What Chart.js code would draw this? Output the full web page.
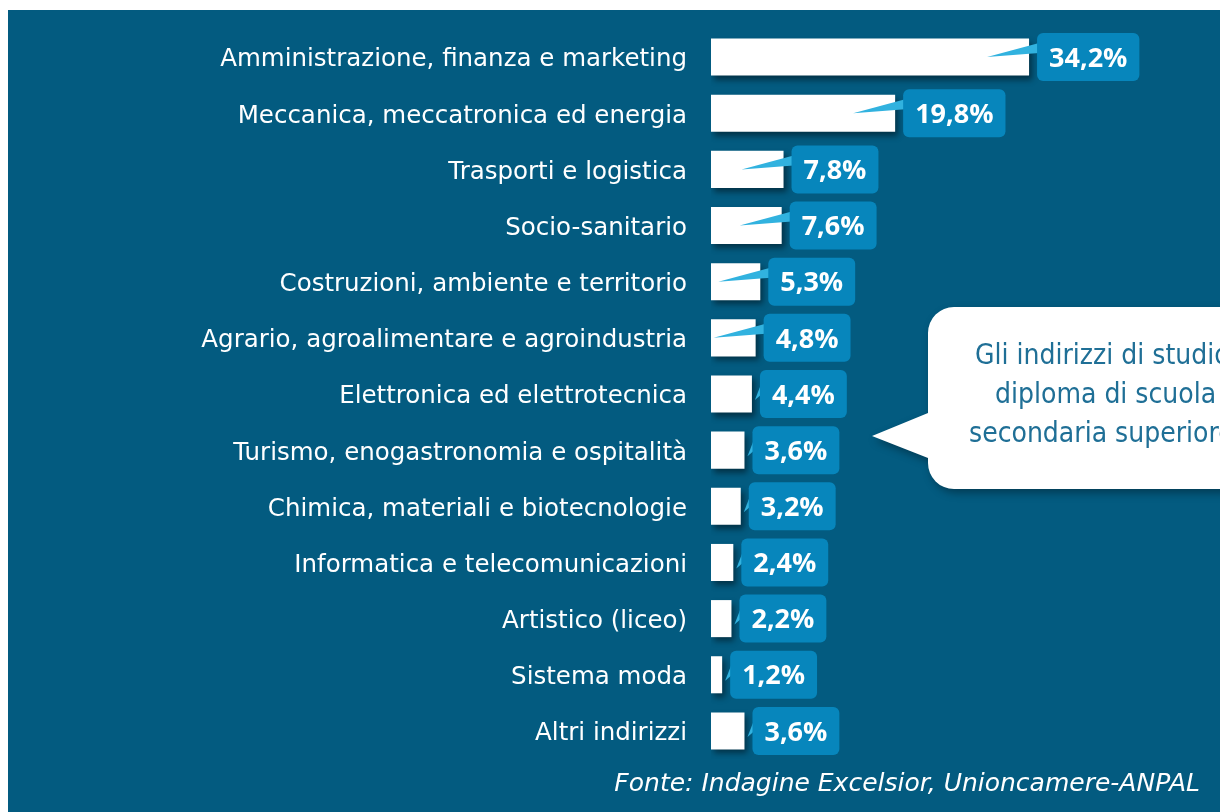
<!DOCTYPE html>
<html>
<head>
<meta charset="utf-8">
<script src="https://cdn.jsdelivr.net/npm/chart.js@4"></script>
<style>
  html, body { margin: 0; padding: 0; background: #fff; }
  canvas { display: block; }
</style>
</head>
<body>
<canvas id="bars" width="1220" height="812"></canvas>
<script>
// indirizzi di studio, quota % sul totale
const categories = [
  'Amministrazione, finanza e marketing',
  'Meccanica, meccatronica ed energia',
  'Trasporti e logistica',
  'Socio-sanitario',
  'Costruzioni, ambiente e territorio',
  'Agrario, agroalimentare e agroindustria',
  'Elettronica ed elettrotecnica',
  'Turismo, enogastronomia e ospitalità',
  'Chimica, materiali e biotecnologie',
  'Informatica e telecomunicazioni',
  'Artistico (liceo)',
  'Sistema moda',
  'Altri indirizzi'
];
const shares = [34.2, 19.8, 7.8, 7.6, 5.3, 4.8, 4.4, 3.6, 3.2, 2.4, 2.2, 1.2, 3.6];
const noteLines = ['Gli indirizzi di studio', 'diploma di scuola', 'secondaria superiore'];
const source = 'Fonte: Indagine Excelsior, Unioncamere-ANPAL';

const BG = '#035b80';
const BOX = '#0786bc';
const TAIL = '#31b2df';

const fmt = v => v.toFixed(1).replace('.', ',') + '%';

function roundRect(ctx, x, y, w, h, r) {
  ctx.beginPath();
  ctx.moveTo(x + r, y);
  ctx.arcTo(x + w, y, x + w, y + h, r);
  ctx.arcTo(x + w, y + h, x, y + h, r);
  ctx.arcTo(x, y + h, x, y, r);
  ctx.arcTo(x, y, x + w, y, r);
  ctx.closePath();
}

// background panel with thin white margin top/left
const background = {
  id: 'background',
  beforeDraw(chart) {
    const c = chart.ctx;
    c.save();
    c.fillStyle = '#fff';
    c.fillRect(0, 0, chart.width, chart.height);
    c.fillStyle = BG;
    c.fillRect(8, 10, chart.width - 8, chart.height - 10);
    c.restore();
  }
};

// drop shadow under the bars
const barShadow = {
  id: 'barShadow',
  beforeDatasetsDraw(chart) {
    const c = chart.ctx;
    c.save();
    c.shadowColor = 'rgba(0,0,0,0.45)';
    c.shadowBlur = 6;
    c.shadowOffsetX = 3;
    c.shadowOffsetY = 4;
  },
  afterDatasetsDraw(chart) {
    chart.ctx.restore();
  }
};

// value callouts, speech bubble and source line
const callouts = {
  id: 'callouts',
  afterDraw(chart) {
    const c = chart.ctx;
    const meta = chart.getDatasetMeta(0);
    c.save();
    c.font = 'bold 27px "Open Sans"';
    meta.data.forEach((bar, i) => {
      const txt = fmt(shares[i]);
      const end = bar.x;
      const cy = bar.y;
      const bx = end + 8;
      const bw = c.measureText(txt).width + 24;
      const by = cy - 24;
      // tail
      c.fillStyle = TAIL;
      c.beginPath();
      if (end - 42 > 712) {
        c.moveTo(bx + 2, by + 10);
        c.lineTo(bx + 2, by + 20);
        c.lineTo(end - 42, cy);
      } else {
        c.moveTo(bx + 2, by + 12);
        c.lineTo(bx + 2, by + 24);
        c.lineTo(bx - 5, cy + 6);
      }
      c.closePath();
      c.fill();
      // box
      c.fillStyle = BOX;
      roundRect(c, bx, by, bw, 48, 6);
      c.fill();
      c.fillStyle = '#fff';
      c.textAlign = 'center';
      c.textBaseline = 'middle';
      c.fillText(txt, bx + bw / 2, cy + 2);
    });

    // speech bubble
    c.save();
    c.shadowColor = 'rgba(0,0,0,0.35)';
    c.shadowBlur = 8;
    c.shadowOffsetX = 3;
    c.shadowOffsetY = 4;
    c.fillStyle = '#fff';
    const L = 928, T = 307, R = 1260, B = 489, r = 26;
    c.beginPath();
    c.moveTo(L + r, T);
    c.lineTo(R, T);
    c.lineTo(R, B);
    c.lineTo(L + r, B);
    c.arcTo(L, B, L, B - r, r);
    c.lineTo(L, 458);
    c.lineTo(872, 436);
    c.lineTo(L, 413);
    c.arcTo(L, T, L + r, T, r);
    c.closePath();
    c.fill();
    c.restore();

    c.fillStyle = '#1f6f96';
    c.font = '200 28px "DejaVu Sans Condensed"';
    c.textAlign = 'left';
    c.textBaseline = 'middle';
    const lx = [975, 995, 969];
    noteLines.forEach((t, i) => c.fillText(t, lx[i], 357 + i * 39));

    // source
    c.fillStyle = '#fff';
    c.font = 'italic 25px "DejaVu Sans"';
    c.textAlign = 'right';
    c.fillText(source, 1200, 784);
    c.restore();
  }
};

new Chart(document.getElementById('bars'), {
  type: 'bar',
  data: {
    labels: categories,
    datasets: [{
      data: shares,
      backgroundColor: '#ffffff',
      borderWidth: 0,
      categoryPercentage: 0.66,
      barPercentage: 1
    }]
  },
  options: {
    indexAxis: 'y',
    responsive: false,
    animation: false,
    devicePixelRatio: 1,
    layout: { padding: { top: 29, bottom: 53, right: 44, left: 0 } },
    plugins: {
      legend: { display: false },
      tooltip: { enabled: false }
    },
    scales: {
      x: {
        display: false,
        min: 0,
        max: 50
      },
      y: {
        afterFit(scale) {
          scale.width = 711;
          scale.paddingTop = 0;
          scale.paddingBottom = 0;
        },
        grid: { display: false, drawTicks: false },
        border: { display: false },
        ticks: {
          color: '#ffffff',
          padding: 24,
          labelOffset: 3,
          font: { family: 'DejaVu Sans', size: 24.5 }
        }
      }
    }
  },
  plugins: [background, barShadow, callouts]
});
</script>
</body>
</html>
